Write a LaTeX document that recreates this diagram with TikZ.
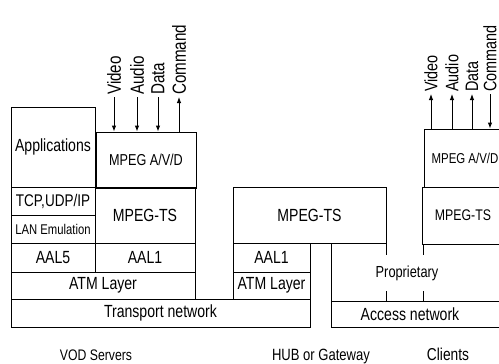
\documentclass[tikz,border=0pt]{standalone}
\usepackage{fontspec}
\setmainfont{Liberation Sans}[FakeStretch=0.8]
\usepackage{tikz}
\usetikzlibrary{arrows.meta}
\newcommand{\fsz}[1]{\fontsize{#1}{#1}\selectfont}
\tikzset{wire/.style = {line width = 0.9pt}}
\tikzset{blk/.style 2 args = {draw, wire, inner sep = 0, minimum width = #1,
                              minimum height = #2, font = \fsz{17.6}}}
\tikzset{lbl/.style = {inner sep = 0, font = \fsz{17.6}}}
\tikzset{sig/.style = {rotate = 90, anchor = west, inner sep = 0, font = \fsz{19}}}
\tikzset{>={Latex[length=6pt, width=4.5pt]}}

\begin{document}
\begin{tikzpicture}[x = 1pt, y = -1pt]
    \clip (0, 0) rectangle (499, 364);

    % VOD server stack
    \node [blk={84pt}{80pt}] (apps) at (53, 147) {Applications};
    \node [blk={100pt}{56pt}, font=\fsz{15.8}] (avd) at (146, 160) {MPEG A/V/D};
    \node [blk={84pt}{28pt}, font=\fsz{16.9}] (tcp) at (53, 201) {TCP,UDP/IP};
    \node [blk={84pt}{28pt}, font=\fsz{14.1}] (lan) at (53, 229) {LAN Emulation};
    \node [blk={84pt}{29pt}] (aal5) at (53, 257.5) {AAL5};
    \node [blk={100pt}{56pt}] (ts) at (145, 215) {MPEG-TS};
    \node [blk={100pt}{29pt}] (aal1) at (145, 257.5) {AAL1};
    \node [blk={184pt}{27pt}] (atm) at (103, 285.5) {ATM Layer};
    \node [blk={299pt}{28pt}] (transport) at (160.5, 313) {Transport network};

    \node [sig] (video) at (114, 95) {Video};
    \node [sig] (audio) at (137, 95) {Audio};
    \node [sig] (data) at (158, 95) {Data};
    \node [sig] (cmd) at (179, 95) {Command};
    \draw [wire, ->] ([yshift=-2pt] video.west) -- (video.west |- avd.north);
    \draw [wire, ->] ([yshift=-2pt] audio.west) -- (audio.west |- avd.north);
    \draw [wire, ->] ([yshift=-2pt] data.west) -- (data.west |- avd.north);
    \draw [wire, <-] ([yshift=-2pt] cmd.west) -- (cmd.west |- avd.north);

    % hub
    \node [blk={153pt}{56pt}] (hubts) at (309.5, 215) {MPEG-TS};
    \node [blk={77pt}{29pt}] (hubaal) at (271.5, 257.5) {AAL1};
    \node [blk={77pt}{27pt}] (hubatm) at (271.5, 285.5) {ATM Layer};

    % clients
    \node [blk={82pt}{58pt}, font=\fsz{14.3}] (cavd) at (465, 158) {MPEG A/V/D};
    \node [blk={82pt}{57pt}, font=\fsz{15.4}] (cts) at (463, 215.5) {MPEG-TS};
    \node [blk={175pt}{26pt}] (acc) at (418.5, 314) {};
    \node [lbl] (acctxt) at (410, 314) {Access network};

    \node [sig, font=\fsz{18}] (cvideo) at (431, 92) {Video};
    \node [sig, font=\fsz{18}] (caudio) at (452, 92) {Audio};
    \node [sig, font=\fsz{18}] (cdata) at (472, 92) {Data};
    \node [sig, font=\fsz{18}] (ccmd) at (490, 92) {Command};
    \draw [wire, <-] ([yshift=-2pt] cvideo.west) -- (cvideo.west |- cavd.north);
    \draw [wire, <-] ([yshift=-2pt] caudio.west) -- (caudio.west |- cavd.north);
    \draw [wire, <-] ([yshift=-2pt] cdata.west) -- (cdata.west |- cavd.north);
    \draw [wire, ->] ([yshift=-2pt] ccmd.west) -- (ccmd.west |- cavd.north);

    % proprietary part
    \coordinate (propnw) at (331, 243);
    \draw [wire] (propnw) -- (propnw |- acc.north);
    \draw [wire] (hubts.south east) -- ++(0, 12);
    \draw [wire] (cavd.south west) ++(0, 57) -- ++(0, 11);
    \draw [wire] (hubts.east |- acc.north) -- ++(0, -10);
    \draw [wire] (cavd.west |- acc.north) -- ++(0, -10);
    \node [lbl, font=\fsz{16}] (prop) at (407, 273) {Proprietary};

    \node [lbl, font=\fsz{15.3}, anchor=base] (vod) at (96, 360.5) {VOD Servers};
    \node [lbl, font=\fsz{16.3}, anchor=base] (hub) at (321, 360.5) {HUB or Gateway};
    \node [lbl, font=\fsz{17.2}, anchor=base] (clients) at (448, 360.5) {Clients};
\end{tikzpicture}
\end{document}
